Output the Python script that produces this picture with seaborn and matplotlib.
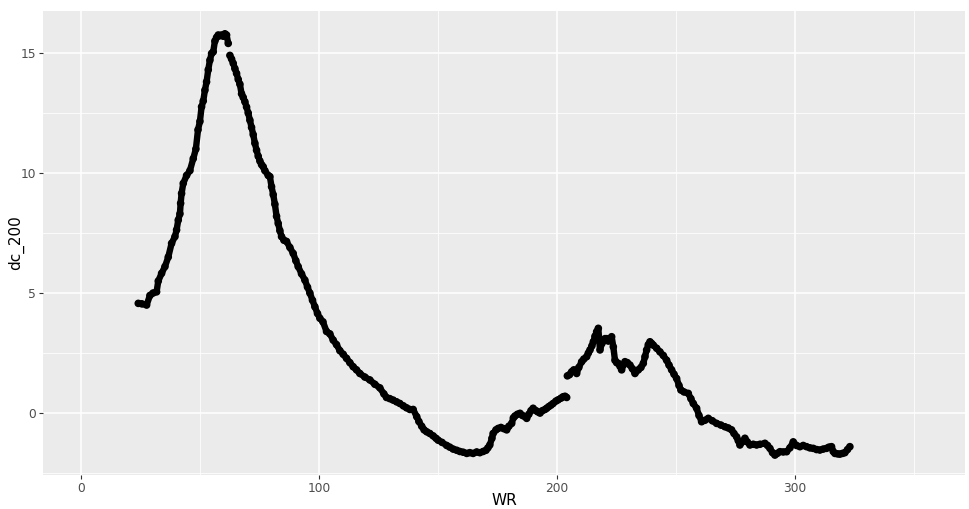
import pandas as pd
import matplotlib.pyplot as plt
import seaborn as sns
import numpy as np

# values
WR = [24.1, 25.6, 27.6, 29.0, 30.3, 31.8, 32.5, 33.9, 35.3, 36.7, 38.1, 39.5, 40.2, 40.9,
      41.6, 41.9, 42.3, 43.0, 44.4, 45.8, 47.2, 48.3, 49.2, 50.0, 50.7, 51.4, 52.1, 52.8,
      53.5, 54.2, 54.9, 55.6, 56.3, 57.0, 57.7, 58.4, 59.1, 59.8, 60.5, 61.2, 61.9,
      62.6, 63.3, 64.0, 64.7, 65.4, 66.1, 66.8, 67.5, 68.2, 68.9, 69.6, 70.3, 71.0, 71.7,
      72.4, 73.1, 73.8, 74.5, 75.2, 75.9, 76.6, 77.3, 78.7, 79.4, 80.1, 80.8, 81.5, 82.2,
      82.9, 83.6, 84.3, 85.3, 86.4, 87.8, 89.2, 90.3, 91.3, 92.7, 94.1, 95.2, 96.2, 97.3,
      98.3, 99.4, 100.4, 101.7, 103.2, 104.6, 106.0, 107.4, 108.8, 110.2, 111.6, 113.0,
      114.4, 115.8, 117.2, 119.3, 121.4, 123.5, 125.6, 127.3, 128.4, 129.8, 131.2, 132.6,
      134.0, 135.5, 136.8, 138.2, 139.6, 141.1, 142.0, 143.2, 144.2, 145.3, 146.6, 148.0,
      149.2, 150.1, 151.7, 153.7, 155.0, 156.4, 157.9, 159.2, 160.6, 162.1, 163.4, 164.8,
      166.3, 167.6, 169.0, 170.2, 171.0, 171.8, 172.7, 173.2, 174.4, 175.3, 176.5, 177.7,
      178.9, 179.8, 181.0, 181.7, 182.4, 183.4, 184.5, 185.5, 186.6, 187.3, 188.2, 189.1,
      190.0, 191.2, 192.0, 192.9, 193.9, 195.0, 195.7, 196.6, 197.5, 198.4, 199.6, 200.5,
      201.7, 202.6, 203.4, 204.1,
      204.4, 205.3, 206.2, 207.1, 208.3, 209.2, 210.4, 211.3, 212.5, 213.2, 213.9, 214.7,
      215.3, 216.0, 216.7, 217.4, 218.1, 218.9, 219.5, 220.2, 220.9, 221.6, 222.3, 223.0,
      223.7, 224.4, 225.1, 225.8, 226.5, 227.2, 227.9, 228.6, 229.6, 230.7, 231.7, 232.8,
      234.2, 235.3, 236.3, 237.0, 237.7, 238.4, 239.1, 239.8, 240.5, 241.9, 243.3, 244.7,
      246.1, 247.1, 248.2, 249.2, 250.3, 251.3, 252.1, 253.4, 255.2, 256.3, 257.3, 258.7,
      259.7, 260.8, 262.2, 263.6, 265.3, 267.1, 268.9, 270.6, 272.0, 273.4, 274.4, 275.5,
      276.2, 276.9, 277.9, 279.0, 280.0, 281.1, 282.5, 283.9, 285.3, 287.4, 288.5, 289.5,
      290.6, 291.6, 292.6, 293.7, 295.1, 296.5, 297.9, 299.3, 300.7, 302.1, 303.5, 304.9,
      306.3, 307.7, 309.1, 310.5, 311.9, 313.3, 314.3, 315.4, 316.1, 316.8, 317.9, 318.9,
      320.0, 321.0, 322.1, 323.1]
dc_200 = [4.57, 4.55, 4.50, 4.9, 5.0, 5.05, 5.5, 5.82, 6.1, 6.5, 7.07, 7.35, 7.63, 8.04,
          8.3, 8.74, 9.15, 9.57, 9.9, 10.1, 10.6, 11.0, 11.8, 12.15, 12.76, 13.0, 13.45, 13.8,
          14.3, 14.7, 14.98, 15.05, 15.5, 15.65, 15.75, 15.72, 15.75, 15.7, 15.8, 15.75, 15.4,
          14.9, 14.75, 14.57, 14.35, 14.15, 13.9, 13.7, 13.3, 13.15, 12.97, 12.75, 12.5, 12.2, 11.9,
          11.6, 11.24, 10.95, 10.7, 10.5, 10.35, 10.26, 10.1, 9.9, 9.85, 9.43, 9.1, 8.7, 8.2,
          7.9, 7.6, 7.35, 7.2, 7.15, 6.9, 6.65, 6.35, 6.1, 5.8, 5.54, 5.25, 5.0, 4.7,
          4.43, 4.15, 3.95, 3.8, 3.4, 3.3, 3.04, 2.85, 2.6, 2.45, 2.28, 2.1,
          1.93, 1.8, 1.65, 1.5, 1.38, 1.2, 1.05, 0.8, 0.65, 0.6, 0.54, 0.47,
          0.4, 0.3, 0.22, 0.15, 0.15, -0.15, -0.35, -0.55, -0.7, -0.78, -0.85, -0.95,
          -1.05, -1.13, -1.22, -1.35, -1.42, -1.5, -1.55, -1.6, -1.63, -1.68, -1.65, -1.68,
          -1.62, -1.65, -1.6, -1.55, -1.45, -1.33, -1.05, -0.85, -0.7, -0.64, -0.6, -0.65,
          -0.7, -0.55, -0.43, -0.2, -0.12, -0.05, -0.01, -0.1, -0.15, -0.22, -0.05, 0.1,
          0.2, 0.1, 0.05, 0.0, 0.1, 0.15, 0.2, 0.27, 0.33, 0.4, 0.5, 0.55,
          0.62, 0.68, 0.7, 0.65,
          1.55, 1.6, 1.72, 1.8, 1.65, 1.9, 2.14, 2.25, 2.35, 2.5, 2.63, 2.8,
          2.97, 3.2, 3.39, 3.53, 2.63, 2.9, 3.0, 3.1, 3.1, 3.0, 3.1, 3.18,
          2.76, 2.2, 2.1, 2.07, 1.95, 1.8, 2.0, 2.14, 2.1, 2.0, 1.85, 1.65,
          1.8, 1.9, 2.07, 2.35, 2.63, 2.85, 2.97, 2.9, 2.83, 2.7, 2.55, 2.4,
          2.2, 2.0, 1.8, 1.62, 1.44, 1.15, 0.96, 0.88, 0.82, 0.6, 0.4, 0.2,
          -0.1, -0.36, -0.3, -0.22, -0.32, -0.43, -0.5, -0.57, -0.62, -0.7, -0.85, -0.99,
          -1.15, -1.33, -1.2, -1.05, -1.2, -1.33, -1.3, -1.33, -1.3, -1.26, -1.35, -1.47,
          -1.65, -1.75, -1.68, -1.61, -1.62, -1.61, -1.45, -1.2, -1.35, -1.4, -1.35, -1.4,
          -1.45, -1.47, -1.52, -1.54, -1.5, -1.47, -1.42, -1.4, -1.6, -1.68, -1.7, -1.71,
          -1.68, -1.65, -1.52, -1.4]

# WR values where the dense point trail has a visible break
breaks = [62.3, 204.2]

x_ticks = [0, 100, 200, 300]
y_ticks = [0, 5, 10, 15]

data = pd.DataFrame({'WR': WR, 'dc_200': dc_200})
data['run'] = np.searchsorted(breaks, data['WR'])

fig = plt.figure(figsize=(9.69, 5.09), dpi=100)
ax = fig.add_axes([0.0447, 0.0668, 0.951, 0.9116])
plt.rcParams['font.family'] = ['Liberation Sans', 'DejaVu Sans']

ax.set_facecolor('#EBEBEB')
ax.set_xlim(-15.8, 371.4)
ax.set_ylim(-2.58, 16.75)
ax.set_xticks(x_ticks)
ax.set_yticks(y_ticks)
ax.set_xticks([50, 150, 250, 350], minor=True)
ax.set_yticks([-2.5, 2.5, 7.5, 12.5], minor=True)
ax.grid(which='major', color='white', linewidth=1.1)
ax.grid(which='minor', color='white', linewidth=0.55)
ax.set_axisbelow(True)
for s in ax.spines.values():
    s.set_visible(False)
ax.tick_params(which='major', length=3, width=0.8, color='#333333',
               labelcolor='#4D4D4D', labelsize=8.8, pad=2)
ax.tick_params(which='minor', length=0)

# dense points form a thick trail
sns.lineplot(data=data, x='WR', y='dc_200', units='run', estimator=None, sort=False,
             ax=ax, color='black', linewidth=4.6, solid_capstyle='round',
             solid_joinstyle='round', legend=False)
sns.scatterplot(data=data, x='WR', y='dc_200', ax=ax, color='black',
                s=30, edgecolor='none', linewidth=0, legend=False)

ax.set_xlabel('WR', fontsize=11, color='black', va='center')
ax.set_ylabel('dc_200', fontsize=11, color='black', va='center')
ax.xaxis.set_label_coords(0.5, -0.054)
ax.yaxis.set_label_coords(-0.03, 0.5)

fig.savefig('out.png', dpi=100)
